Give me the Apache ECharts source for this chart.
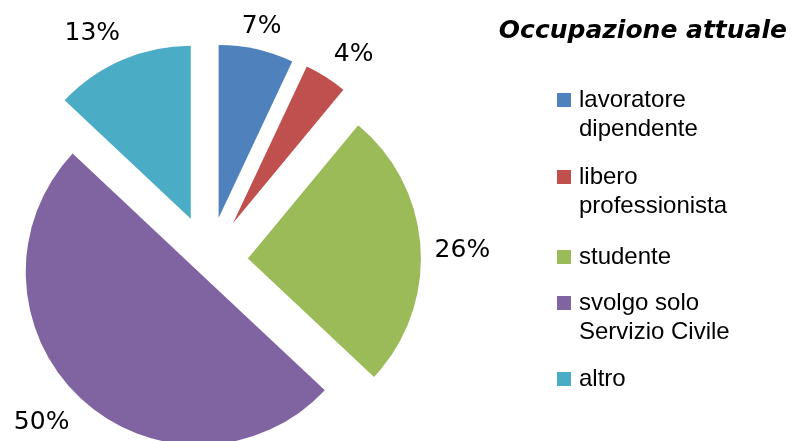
<!DOCTYPE html>
<html><head><meta charset="utf-8">
<script src="https://cdn.jsdelivr.net/npm/echarts@6/dist/echarts.min.js"></script>
<style>html,body{margin:0;padding:0;background:#fff}#c{width:792px;height:441px}</style>
</head><body><div id="c"></div>
<script>
// ---- data ----
const categories = ['lavoratore dipendente', 'libero professionista', 'studente', 'svolgo solo Servizio Civile', 'altro'];
const legendLabels = ['lavoratore\ndipendente', 'libero\nprofessionista', 'studente', 'svolgo solo\nServizio Civile', 'altro'];
const values = [7, 4, 26, 50, 13];
const titleText = 'Occupazione attuale';

// ---- style / layout ----
const colors = ['#4F81BD', '#C0504D', '#9BBB59', '#8064A2', '#4BACC6'];
const pieCenter = [209, 261];
const pieRadius = 173;
const explode = [44, 45, 39, 15, 46];
const lineLen = [25, 28, 0, 32, 30];
const lineLen2 = [-25, -12, 9, -16, -15];
const labelShiftY = [2, 1, 3, 1, 1];
const legendCenters = [100, 177, 257, 303, 379];
const legendLine = 29;

const chart = echarts.init(document.getElementById('c'), null, {renderer: 'canvas'});

const series = categories.map((cat, i) => ({
  type: 'pie',
  center: pieCenter,
  radius: pieRadius,
  startAngle: 90,
  clockwise: true,
  selectedMode: 'multiple',
  selectedOffset: explode[i],
  avoidLabelOverlap: false,
  silent: true,
  animation: false,
  label: {
    show: true, position: 'outside', formatter: '{d}%',
    fontFamily: 'DejaVu Sans', fontSize: 25, color: '#000', distanceToLabelLine: 5
  },
  labelLine: {show: false, length: lineLen[i], length2: lineLen2[i]},
  labelLayout: {dy: labelShiftY[i]},
  emphasis: {disabled: true},
  data: categories.map((n, j) => ({
    name: n,
    value: values[j],
    selected: j === i,
    itemStyle: {color: j === i ? colors[j] : 'rgba(0,0,0,0)'},
    label: {show: j === i},
    labelLine: {show: false}
  }))
}));

const legendFont = {fontFamily: 'Liberation Sans', fontSize: 24, lineHeight: legendLine, color: '#000'};

const legends = categories.map((cat, i) => {
  const lines = legendLabels[i].split('\n').length;
  return {
    orient: 'vertical',
    left: 557,
    top: legendCenters[i] - (2 * lines - 1) * legendLine / 2,
    padding: 0,
    itemWidth: 14,
    itemHeight: 14,
    icon: 'rect',
    selectedMode: false,
    data: [{name: cat, itemStyle: {color: colors[i]}}],
    formatter: (name) => legendLabels[categories.indexOf(name)].split('\n').map(s => '{t|' + s + '}').join('\n'),
    textStyle: Object.assign({}, legendFont, {
      padding: [(lines - 1) * legendLine, 0, 0, 3],
      rich: {t: Object.assign({}, legendFont)}
    })
  };
});

chart.setOption({
  backgroundColor: '#fff',
  animation: false,
  title: {
    text: titleText, right: 5, top: 19, padding: 0,
    textStyle: {fontFamily: 'DejaVu Sans', fontSize: 25, fontWeight: 'bold', fontStyle: 'italic', color: '#000'}
  },
  legend: legends,
  series: series
});
</script>
</body></html>
